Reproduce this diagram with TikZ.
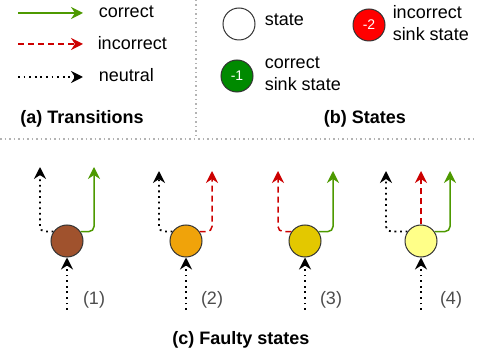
\documentclass[tikz,border=0pt]{standalone}
\usepackage{fontspec}
\setmainfont{Liberation Sans}
\usetikzlibrary{arrows.meta,positioning}

\definecolor{okgreen}{HTML}{4D9900}
\definecolor{badred}{HTML}{CC0000}
\definecolor{sinkgreen}{HTML}{008A00}
\definecolor{sinkred}{HTML}{FF0000}
\definecolor{sepgray}{HTML}{B3B3B3}
\definecolor{faultA}{HTML}{A0522D}
\definecolor{faultB}{HTML}{F0A30A}
\definecolor{faultC}{HTML}{E3C800}
\definecolor{faultD}{HTML}{FFFF88}

\begin{document}
\begin{tikzpicture}[x=1pt,y=1pt,>={Stealth[length=12pt,width=12pt,inset=4pt]},
		line width=1.5pt,font=\fontsize{18}{21.5}\selectfont,
		every node/.style={inner sep=0pt},
		st/.style={circle,draw=black!80,line width=1pt,minimum size=32pt},
		sink/.style={st,text=white,font=\fontsize{14}{16}\selectfont},
		correct/.style={->,okgreen},
		incorrect/.style={->,badred,dash pattern=on 6pt off 4pt},
		neutral/.style={->,black,line width=1.8pt,dash pattern=on 1.8pt off 3.8pt},
		sep/.style={sepgray,line width=1.2pt,dash pattern=on 1.5pt off 3pt},
		title/.style={font=\fontsize{18}{21.5}\selectfont\bfseries},
		num/.style={text=black!70}]

		\useasboundingbox (0,0) rectangle (477,-358);

		% separators
		\coordinate (v1) at (196,0);
		\coordinate (v2) at (196,-136);
		\coordinate (h1) at (0,-139);
		\coordinate (h2) at (477,-139);
		\draw[sep] (v1) -- (v2);
		\draw[sep] (h1) -- (h2);

		% (a) transitions
		\coordinate (cA) at (18,-13);
		\coordinate[right=65pt of cA] (cB);
		\coordinate (iA) at (18,-44);
		\coordinate[right=65pt of iA] (iB);
		\coordinate (nA) at (18,-77);
		\coordinate[right=65pt of nA] (nB);
		\draw[correct] (cA) -- (cB);
		\draw[incorrect] (iA) -- (iB);
		\draw[neutral] (nA) -- (nB);
		\node[anchor=west] (lcor) at (98,-12) {correct};
		\node[anchor=west] (linc) at (97,-43.5) {incorrect};
		\node[anchor=west] (lneu) at (98,-75) {neutral};
		\node[title] (ta) at (82,-119) {(a) Transitions};

		% (b) states
		\node[st] (S) at (239,-24) {};
		\node[anchor=west] (lS) at (264,-20) {state};
		\node[sink,fill=sinkred] (S2) at (369,-25) {-2};
		\node[anchor=west,align=left] (lS2) at (392,-23) {incorrect\\sink state};
		\node[sink,fill=sinkgreen] (S1) at (237,-76) {-1};
		\node[anchor=west,align=left] (lS1) at (264,-74) {correct\\sink state};
		\node[title] (tb) at (365,-119) {(b) States};

		% (c) faulty states
		\node[st,fill=faultA] (F1) at (67,-241) {};
		\node[st,fill=faultB] (F2) [right of=F1, node distance=119pt] {};
		\node[st,fill=faultC] (F3) [right of=F2, node distance=119pt] {};
		\node[st,fill=faultD] (F4) [right of=F3, node distance=116pt] {};

		\coordinate[below=69pt of F1.center] (s1);
		\coordinate[below=69pt of F2.center] (s2);
		\coordinate[below=69pt of F3.center] (s3);
		\coordinate[below=69pt of F4.center] (s4);

		\coordinate[above left=74pt and 27pt of F1.center] (t1l);
		\coordinate[above right=74pt and 27pt of F1.center] (t1r);
		\coordinate[above left=70pt and 27pt of F2.center] (t2l);
		\coordinate[above right=70pt and 26pt of F2.center] (t2r);
		\coordinate[above left=70pt and 27pt of F3.center] (t3l);
		\coordinate[above right=70pt and 28pt of F3.center] (t3r);
		\coordinate[above left=70pt and 35pt of F4.center] (t4l);
		\coordinate[above=70pt of F4.center] (t4m);
		\coordinate[above right=70pt and 29pt of F4.center] (t4r);

		\draw[neutral] (s1) -- (F1.south);
		\draw[neutral] (s2) -- (F2.south);
		\draw[neutral] (s3) -- (F3.south);
		\draw[neutral] (s4) -- (F4.south);

		\draw[neutral,rounded corners=5pt] (F1.145) -| (t1l);
		\draw[correct,rounded corners=5pt] (F1.35) -| (t1r);
		\draw[neutral,rounded corners=5pt] (F2.145) -| (t2l);
		\draw[incorrect,rounded corners=5pt] (F2.35) -| (t2r);
		\draw[incorrect,rounded corners=5pt] (F3.145) -| (t3l);
		\draw[correct,rounded corners=5pt] (F3.35) -| (t3r);
		\draw[neutral,rounded corners=5pt] (F4.145) -| (t4l);
		\draw[incorrect] (F4.north) -- (t4m);
		\draw[correct,rounded corners=5pt] (F4.35) -| (t4r);

		\node[num] (n1) at (94,-300) {(1)};
		\node[num] (n2) at (212,-300) {(2)};
		\node[num] (n3) at (331,-300) {(3)};
		\node[num] (n4) at (451,-300) {(4)};
		\node[title] (tc) at (241,-340) {(c) Faulty states};

	\end{tikzpicture}
\end{document}
